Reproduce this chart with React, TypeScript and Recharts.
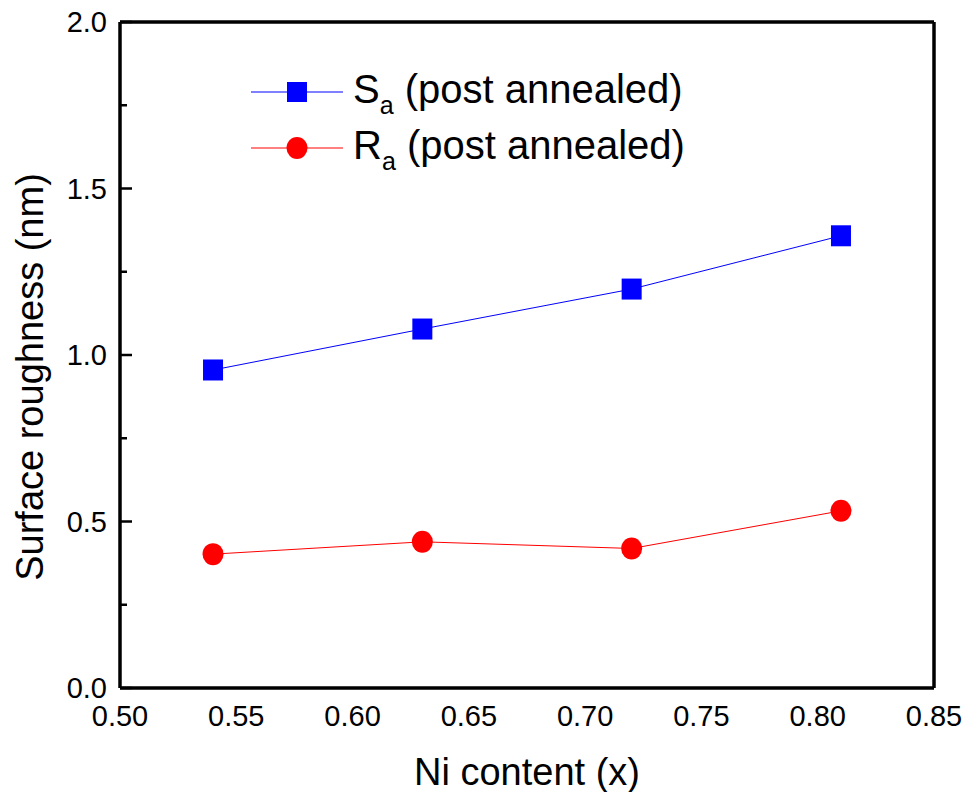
import React from 'react';
import { LineChart, Line, XAxis, YAxis, Legend, ReferenceLine } from 'recharts';

// Ni content (x) of the four films
const niContent = [0.54, 0.63, 0.72, 0.81];
// areal roughness Sa and line roughness Ra after annealing, in nm
const saValues = [0.955, 1.078, 1.198, 1.358];
const raValues = [0.402, 0.439, 0.419, 0.532];

const seriesKeys = ['sa', 'ra'];
const seriesSymbols = ['S', 'R'];
const seriesSubscript = 'a';
const seriesSuffix = ' (post annealed)';
const seriesColors = ['#0000FF', '#FF0000'];

const xTicks = [0.5, 0.55, 0.6, 0.65, 0.7, 0.75, 0.8, 0.85];
const yTicks = [0, 0.25, 0.5, 0.75, 1.0, 1.25, 1.5, 1.75, 2.0];

const FONT = '"Liberation Sans", Arial, Helvetica, sans-serif';

const data = niContent.map((x, i) => ({ x, sa: saValues[i], ra: raValues[i] }));

const SquareDot = (props: any) => {
  const { cx, cy, index } = props;
  if (cx == null || cy == null) return null;
  return <rect key={`sq-${index}`} x={cx - 10} y={cy - 10.5} width={20} height={21} fill={seriesColors[0]} />;
};

const CircleDot = (props: any) => {
  const { cx, cy, index } = props;
  if (cx == null || cy == null) return null;
  return <ellipse key={`ci-${index}`} cx={cx} cy={cy} rx={10.5} ry={11} fill={seriesColors[1]} />;
};

const YTick = (props: any) => {
  const { x, y, payload } = props;
  const v = payload.value as number;
  const major = Math.abs(v * 2 - Math.round(v * 2)) < 1e-6;
  return (
    <g>
      <line x1={x} x2={x + (major ? 12 : 7)} y1={y} y2={y} stroke="#000" strokeWidth={2.5} />
      {major && (
        <text x={x - 13} y={y} dy="0.355em" textAnchor="end" fontSize={29} fontFamily={FONT} fill="#000">
          {v.toFixed(1)}
        </text>
      )}
    </g>
  );
};

const XTick = (props: any) => {
  const { x, y, payload } = props;
  return (
    <text x={x} y={y + 38} textAnchor="middle" fontSize={29} fontFamily={FONT} fill="#000">
      {(payload.value as number).toFixed(2)}
    </text>
  );
};

const LegendContent = (props: any) => {
  const entries = [...(props.payload || [])].sort(
    (a: any, b: any) => seriesKeys.indexOf(a.dataKey) - seriesKeys.indexOf(b.dataKey)
  );
  return (
    <svg width={480} height={110} style={{ display: 'block', overflow: 'visible' }}>
      {entries.map((entry: any, row: number) => {
        const i = seriesKeys.indexOf(entry.dataKey);
        const cy = 22 + row * 56;
        const color = seriesColors[i];
        return (
          <g key={entry.dataKey}>
            <line x1={11} x2={103} y1={cy} y2={cy} stroke={color} strokeWidth={1} />
            {entry.type === 'square' ? (
              <rect x={47} y={cy - 10} width={20} height={20} fill={color} />
            ) : (
              <ellipse cx={57} cy={cy} rx={10.5} ry={11} fill={color} />
            )}
            <text x={113} y={cy + 11} fontSize={40} fontFamily={FONT} fill="#000">
              <tspan>{seriesSymbols[i]}</tspan>
              <tspan fontSize={25} dy={11}>{seriesSubscript}</tspan>
              <tspan dy={-11}>{seriesSuffix}</tspan>
            </text>
          </g>
        );
      })}
    </svg>
  );
};

export default function App() {
  return (
    <div style={{ position: 'absolute', left: 0, top: 0, width: 969, height: 792, background: '#fff' }}>
      <LineChart width={969} height={792} data={data} margin={{ top: 22, right: 35, left: 0, bottom: 0 }}>
        <XAxis
          dataKey="x"
          type="number"
          domain={[0.5, 0.85]}
          ticks={xTicks}
          interval={0}
          height={104}
          tickLine={false}
          tickSize={0}
          tickMargin={0}
          tick={<XTick />}
          axisLine={{ stroke: '#000', strokeWidth: 3.5 }}
          label={(p: any) => {
            const vb = p.viewBox;
            return (
              <text x={vb.x + vb.width / 2} y={vb.y + 97} textAnchor="middle" fontSize={38} fontFamily={FONT} fill="#000">
                Ni content (x)
              </text>
            );
          }}
        />
        <YAxis
          type="number"
          domain={[0, 2]}
          ticks={yTicks}
          interval={0}
          width={120}
          tickLine={false}
          tickSize={0}
          tickMargin={0}
          tick={<YTick />}
          axisLine={{ stroke: '#000', strokeWidth: 3.5 }}
          label={(p: any) => {
            const vb = p.viewBox;
            const cx = vb.x + 43;
            const cy = vb.y + vb.height / 2 + 22;
            return (
              <text x={cx} y={cy} transform={`rotate(-90 ${cx} ${cy})`} textAnchor="middle" fontSize={38} fontFamily={FONT} fill="#000">
                Surface roughness (nm)
              </text>
            );
          }}
        />
        {/* closing frame on top and right */}
        <ReferenceLine y={2} stroke="#000" strokeWidth={3.5} />
        <ReferenceLine x={0.85} stroke="#000" strokeWidth={3.5} />
        <Legend
          layout="vertical"
          align="center"
          verticalAlign="middle"
          wrapperStyle={{ left: 240, top: 70, width: 480, height: 110 }}
          content={<LegendContent />}
        />
        <Line
          dataKey="sa"
          name={`${seriesSymbols[0]}${seriesSubscript}${seriesSuffix}`}
          stroke={seriesColors[0]}
          strokeWidth={1}
          legendType="square"
          dot={SquareDot}
          activeDot={false}
          isAnimationActive={false}
        />
        <Line
          dataKey="ra"
          name={`${seriesSymbols[1]}${seriesSubscript}${seriesSuffix}`}
          stroke={seriesColors[1]}
          strokeWidth={1}
          legendType="circle"
          dot={CircleDot}
          activeDot={false}
          isAnimationActive={false}
        />
      </LineChart>
    </div>
  );
}
